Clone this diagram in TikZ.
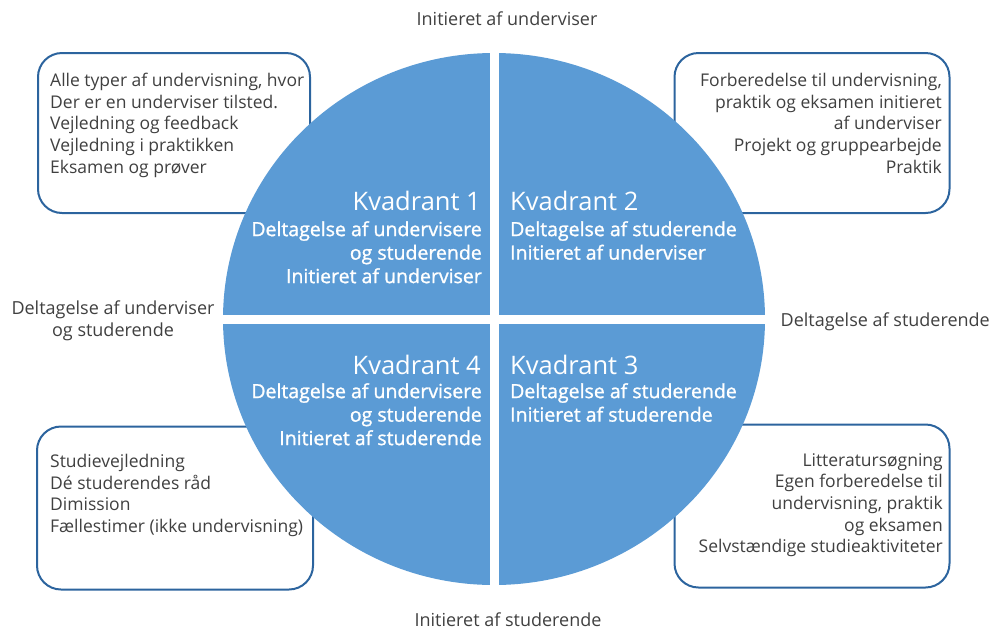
\documentclass[tikz,border=0pt]{standalone}
\usepackage{fontspec}
\setmainfont{Open Sans}
\newfontfamily\kvsemibold[FakeBold=1.2]{Open Sans}
\definecolor{kvblue}{RGB}{91,155,213}
\definecolor{kvline}{RGB}{44,100,158}
\definecolor{kvtext}{RGB}{64,64,64}
\tikzset{
  infobox/.style={draw=kvline,line width=2pt,fill=white,rounded corners=24pt,inner sep=0pt},
  boxtext/.style={text=kvtext,inner sep=0pt,font=\fontsize{17.5}{21.7}\selectfont},
  sidetext/.style={text=kvtext,inner sep=0pt,font=\fontsize{18}{22}\selectfont},
  kvtitle/.style={text=white,inner sep=0pt,font=\fontsize{25.5}{30}\selectfont},
  kvsub/.style={text=white,inner sep=0pt,font=\fontsize{19.5}{23.5}\kvsemibold},
}
\begin{document}
\begin{tikzpicture}[x=1pt,y=-1pt]
        \useasboundingbox (0,0) rectangle (993,630);

        \node (boxA) [infobox,minimum width=272pt,minimum height=160pt] at (174,133) {};
        \node (boxB) [infobox,minimum width=275pt,minimum height=160pt] at (812,133) {};
        \node (boxC) [infobox,minimum width=276pt,minimum height=163pt] at (175,508) {};
        \node (boxD) [infobox,minimum width=275pt,minimum height=163pt] at (812,506) {};

        \fill[kvblue] (494,319) ellipse [x radius=271, y radius=266];
        \draw[white,line width=9pt] (494,45) -- (494,595);
        \draw[white,line width=9pt] (215,319) -- (775,319);

        \node (txtA) [boxtext,anchor=north west,align=left] at (50,73)
            {Alle typer af undervisning, hvor\\Der er en underviser tilsted.\\Vejledning og feedback\\Vejledning i praktikken\\Eksamen og prøver};
        \node (txtB) [boxtext,anchor=north east,align=right] at (942,73)
            {Forberedelse til undervisning,\\praktik og eksamen initieret\\af underviser\\Projekt og gruppearbejde\\Praktik};
        \node (txtC) [boxtext,anchor=north west,align=left] at (50,454)
            {Studievejledning\\Dé studerendes råd\\Dimission\\Fællestimer (ikke undervisning)};
        \node (txtD) [boxtext,anchor=north east,align=right] at (943,453)
            {Litteratursøgning\\Egen forberedelse til\\undervisning, praktik\\og eksamen\\Selvstændige studieaktiviteter};

        \node (kv1) [kvtitle,anchor=north east] at (481,191) {Kvadrant 1};
        \node (kv1s) [kvsub,anchor=north east,align=right] at (482,221)
            {Deltagelse af undervisere\\og studerende\\Initieret af underviser};
        \node (kv2) [kvtitle,anchor=north west] at (510,191) {Kvadrant 2};
        \node (kv2s) [kvsub,anchor=north west,align=left] at (510,221)
            {Deltagelse af studerende\\Initieret af underviser};
        \node (kv4) [kvtitle,anchor=north east] at (481,355) {Kvadrant 4};
        \node (kv4s) [kvsub,anchor=north east,align=right] at (482,383)
            {Deltagelse af undervisere\\og studerende\\Initieret af studerende};
        \node (kv3) [kvtitle,anchor=north west] at (510,355) {Kvadrant 3};
        \node (kv3s) [kvsub,anchor=north west,align=left] at (510,383)
            {Deltagelse af studerende\\Initieret af studerende};

        \node (top) [sidetext] at (507,19) {Initieret af underviser};
        \node (bottom) [sidetext] at (508,620) {Initieret af studerende};
        \node (left) [sidetext,align=center] at (113,321) {Deltagelse af underviser\\og studerende};
        \node (right) [sidetext,anchor=east] at (990,322) {Deltagelse af studerende};
    \end{tikzpicture}
\end{document}
